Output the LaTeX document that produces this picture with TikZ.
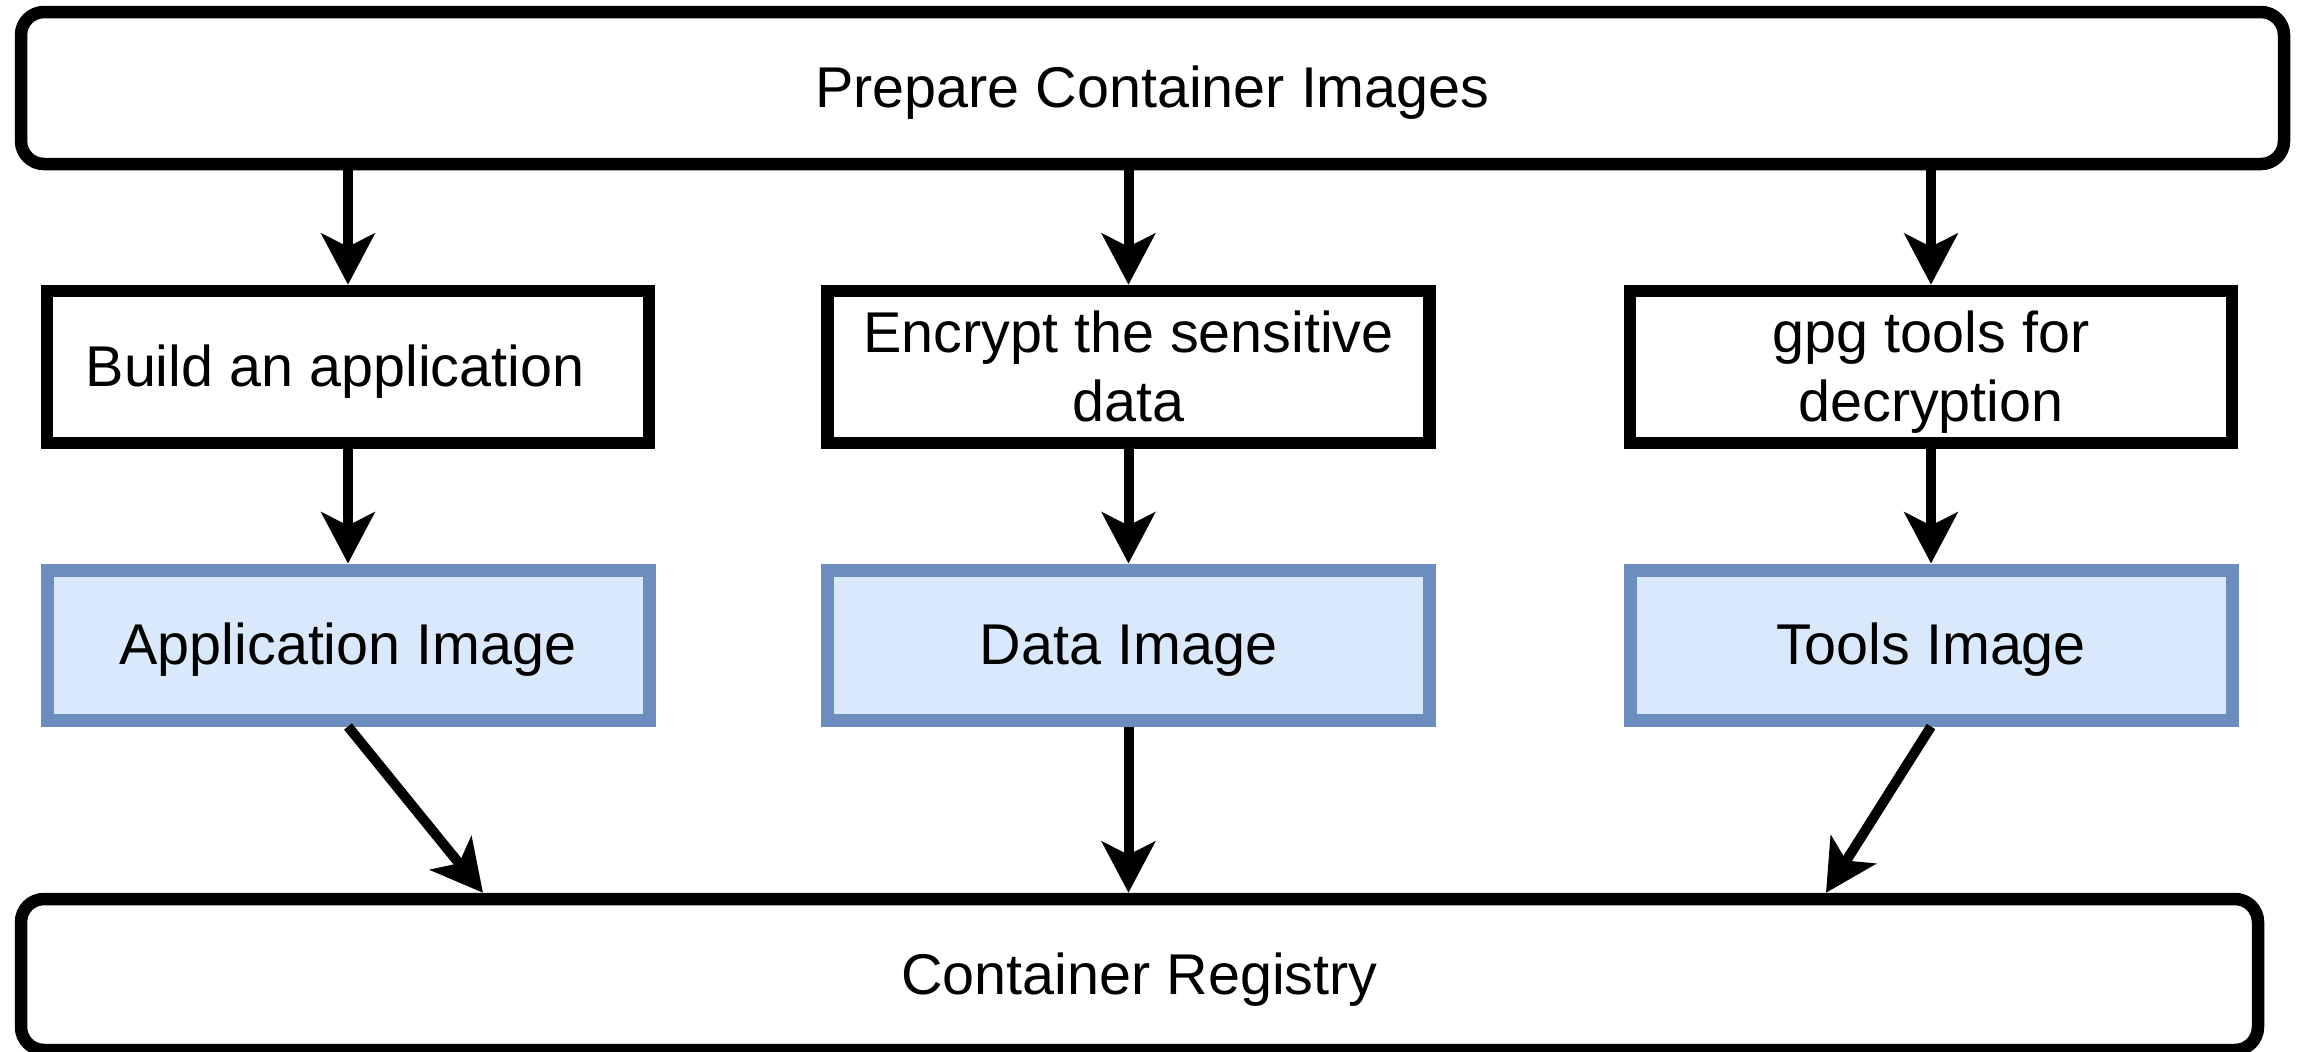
\documentclass[tikz,border=0pt]{standalone}
\usepackage{fontspec}
\setmainfont{Liberation Sans}
\usetikzlibrary{arrows.meta}
\definecolor{imgfill}{HTML}{DAE8FC}
\definecolor{imgline}{HTML}{6C8EBF}
\begin{document}
\begin{tikzpicture}[x=0.3pt,y=-0.3pt,
  every node/.style={font=\fontsize{17.25pt}{20.7pt}\selectfont, align=center, inner sep=0pt},
  oneline/.style={text height=15.6pt, text depth=3.66pt},
  twolines/.style={text height=36.3pt, text depth=3.66pt},
  stage/.style={draw, line width=3.75pt, rounded corners=6.9pt, minimum height=45.6pt},
  task/.style={draw, line width=3.75pt, minimum width=180.6pt, minimum height=45.6pt},
  imgbox/.style={draw=imgline, fill=imgfill, line width=3.9pt, minimum width=180.6pt, minimum height=45pt, oneline},
  flow/.style={line width=3pt, -{Stealth[length=15.3pt, width=15.9pt, inset=3.9pt]}}
]
\useasboundingbox (0,0) rectangle (2303,1051);

% pipeline stages
\node[stage, oneline, minimum width=678.9pt] (prep) at (1152.5,88) {Prepare Container Images};
\node[stage, oneline, minimum width=671.1pt, minimum height=45.3pt] (reg) at (1139.5,974.5) {Container Registry};

% build steps
\node[task, oneline] (build) at (348,367) {Build an application\kern7.8pt};
\node[task, twolines] (enc) at (1128.5,367) {Encrypt the sensitive\\data};
\node[task, twolines] (gpg) at (1931,367) {gpg tools for\\decryption};

% resulting images
\node[imgbox] (appimg) at (348,645) {Application Image};
\node[imgbox] (dataimg) at (1128.5,645) {Data Image};
\node[imgbox] (toolimg) at (1931,645) {Tools Image};

% landing points on the registry
\coordinate (xl) at (483,0);
\coordinate (xr) at (1826,0);

% connectors
\draw[flow] (build.north |- prep.south) -- (build.north);
\draw[flow] (enc.north |- prep.south) -- (enc.north);
\draw[flow] (gpg.north |- prep.south) -- (gpg.north);
\draw[flow] (build.south) -- (appimg.north);
\draw[flow] (enc.south) -- (dataimg.north);
\draw[flow] (gpg.south) -- (toolimg.north);
\draw[flow] (appimg.south) -- (xl |- reg.north);
\draw[flow] (dataimg.south) -- (dataimg.south |- reg.north);
\draw[flow] (toolimg.south) -- (xr |- reg.north);
\end{tikzpicture}
\end{document}
